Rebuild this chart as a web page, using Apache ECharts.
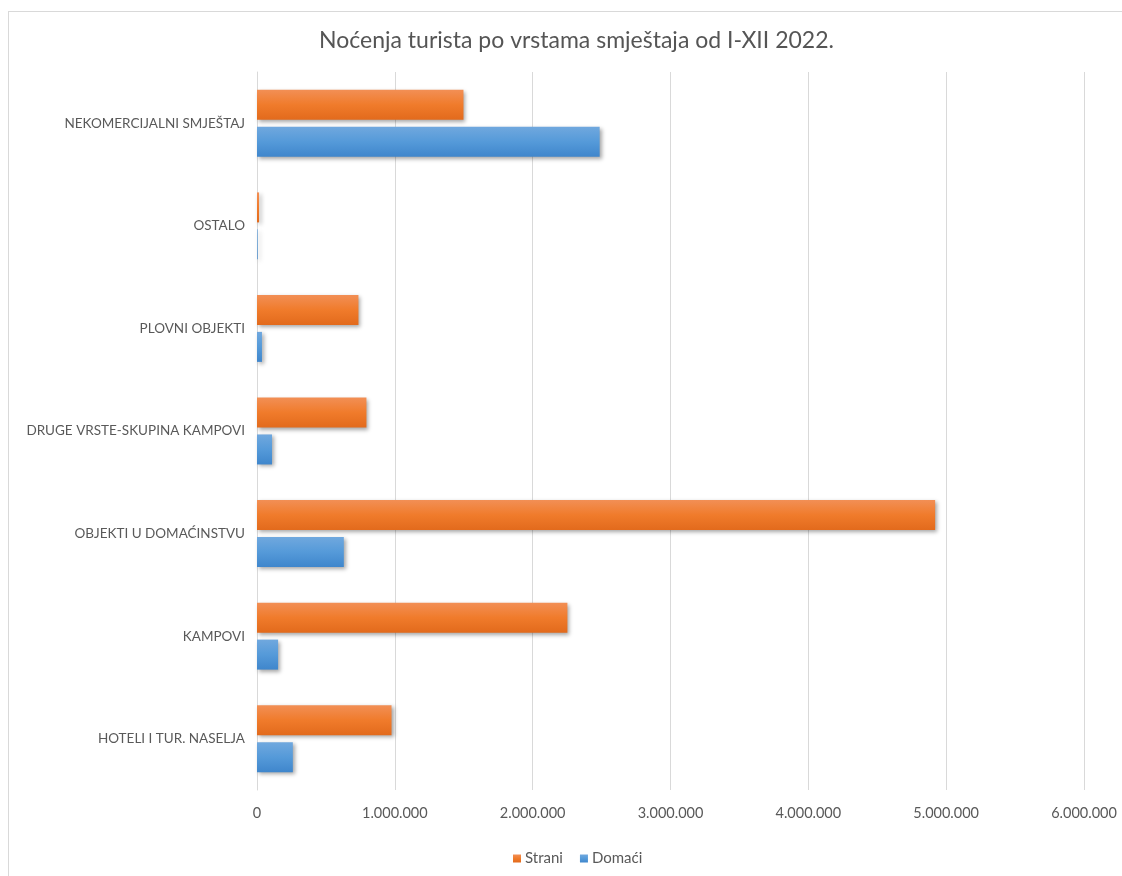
<!DOCTYPE html>
<html>
<head>
<meta charset="utf-8">
<script src="https://cdn.jsdelivr.net/npm/echarts@6/dist/echarts.min.js"></script>
<style>
html,body{margin:0;padding:0;background:#fff;}
#frame{position:absolute;left:8px;top:11px;width:1130px;height:880px;border:1px solid #d9d9d9;box-sizing:border-box;}
#chart{position:absolute;left:0;top:0;width:1122px;height:876px;}
</style>
</head>
<body>
<div id="frame"></div>
<div id="chart"></div>
<script>
const title = 'Noćenja turista po vrstama smještaja od I-XII 2022.';
const categories = ['HOTELI I TUR. NASELJA', 'KAMPOVI', 'OBJEKTI U DOMAĆINSTVU', 'DRUGE VRSTE-SKUPINA KAMPOVI', 'PLOVNI OBJEKTI', 'OSTALO', 'NEKOMERCIJALNI SMJEŠTAJ'];
const strani = [976000, 2252000, 4920000, 794000, 736000, 15000, 1498000];
const domaci = [260000, 153000, 630000, 109000, 36000, 5000, 2486000];
const seriesNames = ['Strani', 'Domaći'];
const xTicks = {min: 0, max: 6000000, interval: 1000000};

function fmt(v){ return String(v).replace(/\B(?=(\d{3})+(?!\d))/g, '.'); }

const orangeGrad = new echarts.graphic.LinearGradient(0,0,0,1,[
  {offset:0,color:'#f28f55'},{offset:0.5,color:'#f07b2b'},{offset:1,color:'#e26a1c'}]);
const blueGrad = new echarts.graphic.LinearGradient(0,0,0,1,[
  {offset:0,color:'#70a8de'},{offset:0.5,color:'#559ad9'},{offset:1,color:'#3f86cc'}]);
const shadow = {shadowColor:'rgba(0,0,0,0.35)', shadowBlur:4, shadowOffsetX:2, shadowOffsetY:2};

const chart = echarts.init(document.getElementById('chart'), null, {renderer:'canvas'});
chart.setOption({
  backgroundColor: 'transparent',
  animation: false,
  title: {
    text: title, left: 314, top: 24,
    textStyle: {fontFamily: 'Lato', fontSize: 23, fontWeight: 'normal', color: '#555555'}
  },
  legend: {
    data: seriesNames, top: 846, left: 508,
    itemWidth: 8, itemHeight: 8, itemGap: 17,
    icon: 'rect',
    textStyle: {fontFamily: 'Lato', fontSize: 15, color: '#595959', padding:[0,0,0,-1]}
  },
  grid: {left: 257, right: 38, top: 72, bottom: 86, containLabel: false},
  xAxis: {
    type: 'value', min: xTicks.min, max: xTicks.max, interval: xTicks.interval,
    axisLine: {show: false}, axisTick: {show: false},
    splitLine: {lineStyle: {color: '#d9d9d9', width: 1}},
    axisLabel: {formatter: fmt, fontFamily: 'Lato', fontSize: 14.5, color: '#595959', margin: 16}
  },
  yAxis: {
    type: 'category', data: categories,
    axisLine: {show: true, lineStyle: {color: '#d9d9d9'}},
    axisTick: {show: false},
    axisLabel: {fontFamily: 'Lato', fontSize: 13.5, color: '#595959', margin: 12}
  },
  series: [
    {name: 'Strani', type: 'bar', data: strani, barWidth: 30, barGap: '23%',
     itemStyle: Object.assign({color: orangeGrad}, shadow)},
    {name: 'Domaći', type: 'bar', data: domaci, barWidth: 30, barGap: '23%',
     itemStyle: Object.assign({color: blueGrad}, shadow)}
  ]
});
</script>
</body>
</html>
